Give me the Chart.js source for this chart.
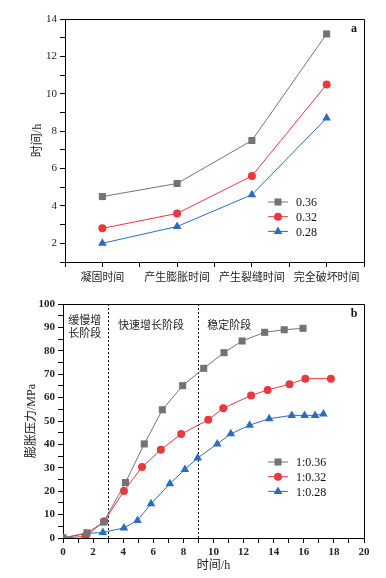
<!DOCTYPE html>
<html>
<head>
<meta charset="utf-8">
<script src="https://cdn.jsdelivr.net/npm/chart.js@4.4.1/dist/chart.umd.min.js"></script>
<style>
  html, body { margin: 0; padding: 0; background: #fff; }
  #wrapA { position: absolute; left: 0; top: 0; width: 386px; height: 290px; }
  #wrapB { position: absolute; left: 0; top: 290px; width: 386px; height: 288px; }
</style>
</head>
<body>
<div id="wrapA"><canvas id="chartA"></canvas></div>
<div id="wrapB"><canvas id="chartB"></canvas></div>
<script>
// (a) time of each stage vs water-cement ratio
var stages = ["凝固时间", "产生膨胀时间", "产生裂缝时间", "完全破坏时间"];
var seriesLabelsA = ["0.36", "0.32", "0.28"];
var timeA036 = [4.5, 5.2, 7.5, 13.2];
var timeA032 = [2.8, 3.6, 5.6, 10.5];
var timeA028 = [2.0, 2.9, 4.6, 8.7];

// (b) expansion pressure over time
var seriesLabelsB = ["1:0.36", "1:0.32", "1:0.28"];
var hoursB036 = [0, 1.6, 2.7, 4.15, 5.4, 6.6, 7.95, 9.35, 10.7, 11.9, 13.4, 14.7, 15.95];
var pressB036 = [0, 2.2, 6.8, 23.7, 40.2, 54.8, 65.1, 72.5, 79.2, 84.2, 87.9, 89.0, 89.6];
var hoursB032 = [0, 1.5, 2.75, 4.05, 5.25, 6.5, 7.85, 9.65, 10.65, 12.5, 13.6, 15.05, 16.1, 17.8];
var pressB032 = [0, 0.7, 7.2, 20.1, 30.3, 37.7, 44.4, 50.5, 55.5, 60.9, 63.3, 65.7, 68.1, 68.1];
var hoursB028 = [0, 1.5, 2.65, 4.05, 4.95, 5.85, 7.1, 8.1, 8.95, 10.25, 11.15, 12.4, 13.7, 15.2, 16.05, 16.75, 17.3];
var pressB028 = [0, 1.9, 2.4, 4.3, 7.5, 14.6, 23.2, 29.3, 34.2, 40.2, 44.5, 48.2, 51.0, 52.4, 52.4, 52.4, 53.0];
var stageBounds = [3, 9];

var GRAY = "#737373", RED = "#e8393f", BLUE = "#2c6cbd";
var SERIF = "'Liberation Serif', 'Noto Sans CJK SC', serif";
var CJK = "'Noto Sans CJK SC', sans-serif";

function pts(xs, ys) {
  return ys.map(function (y, i) { return { x: xs[i], y: y }; });
}

function series(label, data, color, style, r) {
  return {
    label: label,
    data: data,
    borderColor: color,
    backgroundColor: color,
    borderWidth: 1,
    pointStyle: style,
    pointRadius: r,
    pointHoverRadius: r,
    pointBackgroundColor: color,
    pointBorderColor: color,
    pointBorderWidth: 0,
    tension: 0
  };
}

// frame, inside legend and corner letter
function decorPlugin(letter, legendTop) {
  return {
    id: "decor" + letter,
    afterDraw: function (chart) {
      var ctx = chart.ctx, a = chart.chartArea;
      ctx.save();
      ctx.strokeStyle = "#000";
      ctx.lineWidth = 1;
      ctx.beginPath();
      ctx.moveTo(Math.round(a.left) + 0.5, Math.round(a.top) + 0.5);
      ctx.lineTo(Math.round(a.right) + 0.5, Math.round(a.top) + 0.5);
      ctx.lineTo(Math.round(a.right) + 0.5, Math.round(a.bottom) + 0.5);
      ctx.stroke();

      ctx.font = "bold 12px " + SERIF;
      ctx.fillStyle = "#111";
      ctx.textAlign = "center";
      ctx.textBaseline = "middle";
      ctx.fillText(letter, a.right - 10, a.top + 10);

      chart.data.datasets.forEach(function (ds, i) {
        var y = legendTop + i * 14.7;
        ctx.strokeStyle = ds.borderColor;
        ctx.lineWidth = 1;
        ctx.beginPath();
        ctx.moveTo(268, y);
        ctx.lineTo(288, y);
        ctx.stroke();
        ctx.fillStyle = ds.pointBackgroundColor;
        Chart.helpers.drawPoint(ctx, { pointStyle: ds.pointStyle, radius: ds.pointRadius, rotation: 0, borderWidth: 0 }, 278, y);
        ctx.fillStyle = "#111";
        ctx.font = "12px " + SERIF;
        ctx.textAlign = "left";
        ctx.fillText(ds.label, 296, y + 1);
      });
      ctx.restore();
    }
  };
}

var stagePlugin = {
  id: "stages",
  beforeDatasetsDraw: function (chart) {
    var ctx = chart.ctx, a = chart.chartArea, xs = chart.scales.x, ys = chart.scales.y;
    ctx.save();
    ctx.strokeStyle = "#111";
    ctx.lineWidth = 1;
    ctx.setLineDash([2, 2]);
    stageBounds.forEach(function (v) {
      var x = Math.round(xs.getPixelForValue(v)) + 0.5;
      ctx.beginPath();
      ctx.moveTo(x, a.top);
      ctx.lineTo(x, a.bottom);
      ctx.stroke();
    });
    ctx.setLineDash([]);
    ctx.fillStyle = "#222";
    ctx.font = "11px " + CJK;
    ctx.textAlign = "center";
    ctx.textBaseline = "middle";
    ctx.fillText("缓慢增", xs.getPixelForValue(1.45), ys.getPixelForValue(93.2));
    ctx.fillText("长阶段", xs.getPixelForValue(1.45), ys.getPixelForValue(87.6));
    ctx.fillText("快速增长阶段", xs.getPixelForValue(5.85), ys.getPixelForValue(90.9));
    ctx.fillText("稳定阶段", xs.getPixelForValue(11.05), ys.getPixelForValue(90.9));
    ctx.restore();
  }
};

var tickGrid = { drawOnChartArea: false, tickLength: 5, color: "#000", tickColor: "#000" };
var axisBorder = { color: "#000", width: 1 };

new Chart(document.getElementById("chartA"), {
  type: "line",
  data: {
    datasets: [
      series(seriesLabelsA[0], pts([0, 1, 2, 3], timeA036), GRAY, "rect", 5),
      series(seriesLabelsA[1], pts([0, 1, 2, 3], timeA032), RED, "circle", 4),
      series(seriesLabelsA[2], pts([0, 1, 2, 3], timeA028), BLUE, "triangle", 5)
    ]
  },
  options: {
    responsive: true,
    maintainAspectRatio: false,
    devicePixelRatio: 1,
    animation: false,
    layout: { padding: { top: 19, right: 22, left: 0, bottom: 0 } },
    plugins: { legend: { display: false }, tooltip: { enabled: false } },
    scales: {
      x: {
        type: "linear",
        min: -0.5,
        max: 3.5,
        grid: tickGrid,
        border: axisBorder,
        ticks: {
          stepSize: 0.5,
          autoSkip: false,
          maxRotation: 0,
          minRotation: 0,
          padding: 3,
          color: "#222",
          font: { family: CJK, size: 11 },
          callback: function (v) { return Number.isInteger(v) ? stages[v] : ""; }
        },
        afterFit: function (s) { s.height = 28; }
      },
      y: {
        min: 1,
        max: 14,
        grid: tickGrid,
        border: axisBorder,
        ticks: {
          stepSize: 1,
          autoSkip: false,
          padding: 3,
          color: "#222",
          font: { family: SERIF, size: 11 },
          callback: function (v) { return v % 2 === 0 ? v : ""; }
        },
        title: {
          display: true,
          text: "时间/h",
          color: "#222",
          font: { family: SERIF, size: 12 },
          padding: { top: 31, bottom: 0 }
        },
        afterFit: function (s) { s.width = 65; }
      }
    }
  },
  plugins: [decorPlugin("a", 202)]
});

new Chart(document.getElementById("chartB"), {
  type: "line",
  data: {
    datasets: [
      series(seriesLabelsB[0], pts(hoursB036, pressB036), GRAY, "rect", 5),
      series(seriesLabelsB[1], pts(hoursB032, pressB032), RED, "circle", 4),
      series(seriesLabelsB[2], pts(hoursB028, pressB028), BLUE, "triangle", 5)
    ]
  },
  options: {
    responsive: true,
    maintainAspectRatio: false,
    devicePixelRatio: 1,
    animation: false,
    layout: { padding: { top: 14, right: 22, left: 0, bottom: 0 } },
    plugins: { legend: { display: false }, tooltip: { enabled: false } },
    scales: {
      x: {
        type: "linear",
        min: 0,
        max: 20,
        grid: tickGrid,
        border: axisBorder,
        ticks: {
          stepSize: 1,
          autoSkip: false,
          maxRotation: 0,
          padding: 3,
          color: "#222",
          font: { family: SERIF, size: 11, weight: "bold" },
          callback: function (v) { return v % 2 === 0 ? v : ""; }
        },
        title: {
          display: true,
          text: "时间/h",
          color: "#222",
          font: { family: SERIF, size: 12 },
          padding: { top: 0, bottom: 5 }
        },
        afterFit: function (s) { s.height = 40; }
      },
      y: {
        min: 0,
        max: 100,
        grid: tickGrid,
        border: axisBorder,
        ticks: {
          stepSize: 5,
          autoSkip: false,
          padding: 3,
          color: "#222",
          font: { family: SERIF, size: 11, weight: "bold" },
          callback: function (v) { return v % 10 === 0 ? v : ""; }
        },
        title: {
          display: true,
          text: "膨胀压力/MPa",
          color: "#222",
          font: { family: SERIF, size: 12 },
          padding: { top: 25, bottom: 0 }
        },
        afterFit: function (s) { s.width = 63; }
      }
    }
  },
  plugins: [stagePlugin, decorPlugin("b", 172)]
});
</script>
</body>
</html>
